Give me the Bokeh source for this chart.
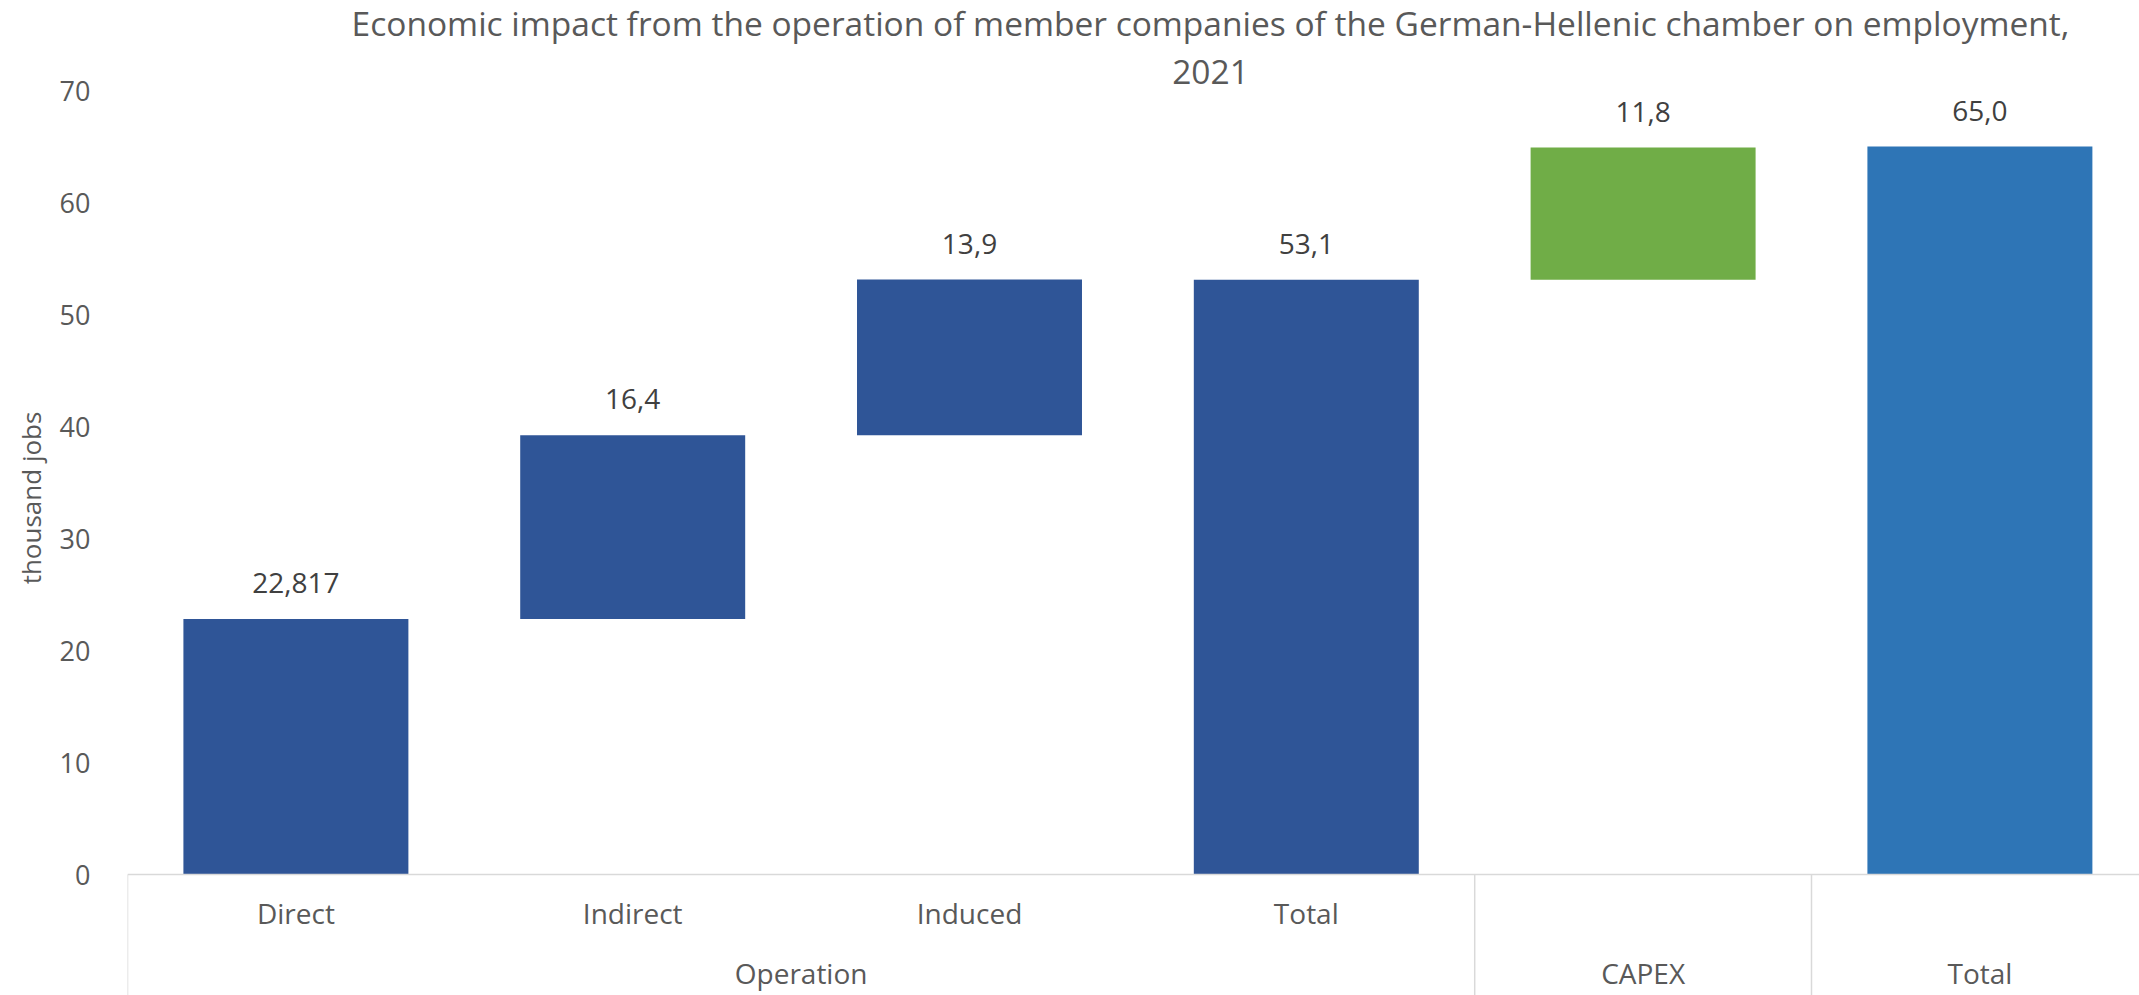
from bokeh.plotting import figure
from bokeh.models import ColumnDataSource, FixedTicker, Range1d, Label, Span
from bokeh.core.properties import value
from bokeh.embed import file_html
from bokeh.resources import INLINE

# ---- data ----
title_lines = ["Economic impact from the operation of member companies of the German-Hellenic chamber on employment,",
               "2021"]
categories = ["Direct", "Indirect", "Induced", "Total", "", ""]
groups = ["Operation", "Operation", "Operation", "Operation", "CAPEX", "Total"]
values = [22.817, 16.4, 13.9, 53.1, 11.8, 65.0]
is_total = [False, False, False, True, False, True]
value_labels = ["22,817", "16,4", "13,9", "53,1", "11,8", "65,0"]
y_ticks = [0, 10, 20, 30, 40, 50, 60, 70]
y_label = "thousand jobs"

FONT = "Open Sans"
palette = {"Operation": "#2F5597", "CAPEX": "#70AD47", "Total": "#2E75B6"}

W, H = 2139, 995
LEFT = 127            # left border (px)
TOP_PX = 90           # pixel row of the top tick (70)
ZERO_PX = 874         # pixel row of the zero line
PITCH = 336.8         # px per category

xs = list(range(len(categories)))
bottoms, tops = [], []
run = 0.0
for v, t in zip(values, is_total):
    if t:
        bottoms.append(0.0)
        tops.append(v)
        run = v
    else:
        bottoms.append(run)
        tops.append(run + v)
        run += v

src = ColumnDataSource(dict(x=xs, bottom=bottoms, top=tops,
                            color=[palette[g] for g in groups],
                            label=value_labels, cat=categories))

# group label positions and separators (contiguous runs of the same group)
runs = []
for i, g in enumerate(groups):
    if runs and runs[-1][0] == g and runs[-1][1][-1] == i - 1:
        runs[-1][1].append(i)
    else:
        runs.append((g, [i]))
group_names = [r[0] for r in runs]
group_ticks = [sum(r[1]) / len(r[1]) for r in runs]
separators = [min(r[1]) - 0.5 for r in runs]

# ranges: plot frame spans the whole height; category rows live below zero
ymax_tick = y_ticks[-1]
ppu = (ZERO_PX - TOP_PX) / ymax_tick
y_start = -(H - ZERO_PX) / ppu
y_end = ymax_tick + TOP_PX / ppu
x_start = -0.5
x_end = x_start + (W - LEFT) / PITCH

p = figure(width=W, height=H, output_backend="svg", toolbar_location=None,
           x_range=Range1d(x_start, x_end), y_range=Range1d(y_start, y_end),
           x_axis_type=None,
           min_border_left=LEFT, min_border_right=0, min_border_top=0,
           min_border_bottom=0)
p.title = None
p.outline_line_color = None
p.ygrid.grid_line_color = None
p.background_fill_color = "white"
p.border_fill_color = "white"

# bars and value labels
p.vbar(x="x", width=0.668, bottom="bottom", top="top", fill_color="color",
       line_color=None, source=src)
p.text(x="x", y="top", text="label", source=src, text_align="center",
       text_baseline="alphabetic", y_offset=-36,
       text_font=value(FONT), text_font_size="28px", text_color="#404040")

# category axis (line, separators, two label rows)
p.add_layout(Span(location=0, dimension="width", line_color="#d9d9d9",
                  line_width=1.5))
sep_src = ColumnDataSource(dict(x=separators, y0=[0] * len(separators),
                                y1=[y_start] * len(separators)))
p.segment(x0="x", y0="y0", x1="x", y1="y1", source=sep_src,
          line_color="#d9d9d9", line_width=1.5)
p.text(x="x", y=0, text="cat", source=src, text_align="center",
       text_baseline="alphabetic", y_offset=38,
       text_font=value(FONT), text_font_size="28px", text_color="#595959")
gsrc = ColumnDataSource(dict(x=group_ticks, text=group_names))
p.text(x="x", y=0, text="text", source=gsrc, text_align="center",
       text_baseline="alphabetic", y_offset=98,
       text_font=value(FONT), text_font_size="28px", text_color="#595959")

# title (two centred lines)
TITLE_CX = 1210
for line, base in [(title_lines[0], 22), (title_lines[1], 71)]:
    p.add_layout(Label(x=TITLE_CX - LEFT, y=H - base, x_units="screen",
                       y_units="screen", text=line, text_align="center",
                       text_baseline="alphabetic", text_font=FONT,
                       text_font_size="33.5px", text_color="#595959"))

# y axis
ya = p.yaxis[0]
ya.ticker = FixedTicker(ticks=y_ticks)
ya.axis_line_color = None
ya.major_tick_line_color = None
ya.minor_tick_line_color = None
ya.major_label_standoff = 31
ya.major_label_text_font = FONT
ya.major_label_text_font_size = "27px"
ya.major_label_text_color = "#595959"
ya.axis_label = y_label
ya.axis_label_text_font = FONT
ya.axis_label_text_font_size = "26px"
ya.axis_label_text_font_style = "normal"
ya.axis_label_text_color = "#595959"
ya.axis_label_standoff = 8

open("out.html", "w").write(file_html(p, INLINE))
